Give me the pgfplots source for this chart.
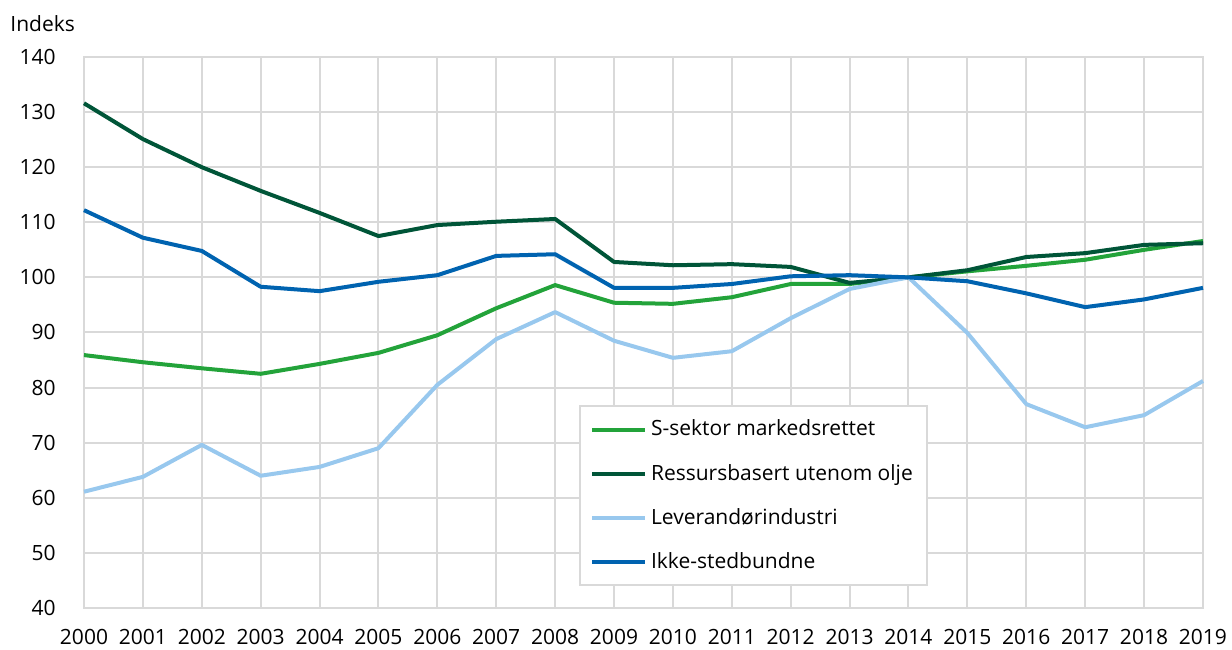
\documentclass[border=0pt]{standalone}
\usepackage{fontspec}
\setmainfont{Open Sans}
\usepackage{pgfplots}
\pgfplotsset{compat=1.18}

\definecolor{sgreen}{HTML}{23A33A}
\definecolor{dgreen}{HTML}{005538}
\definecolor{lblue}{HTML}{98C8EE}
\definecolor{mblue}{HTML}{0063B0}
\definecolor{gridgrey}{HTML}{D9D9D9}

\pgfplotstableread{
year ssektor ressurs lever ikke
2000 85.9 131.6 61.1 112.2
2001 84.6 125.1 63.8 107.2
2002 83.5 120.0 69.6 104.8
2003 82.5 115.7 64.0 98.3
2004 84.3 111.7 65.6 97.5
2005 86.3 107.5 69.0 99.2
2006 89.5 109.5 80.5 100.4
2007 94.4 110.1 88.8 103.9
2008 98.6 110.6 93.7 104.2
2009 95.4 102.8 88.5 98.1
2010 95.2 102.2 85.4 98.1
2011 96.4 102.4 86.6 98.8
2012 98.8 101.9 92.6 100.2
2013 98.8 99.0 97.9 100.4
2014 100.0 100.0 100.0 100.0
2015 101.1 101.3 89.9 99.3
2016 102.1 103.7 77.0 97.1
2017 103.2 104.4 72.8 94.6
2018 105.0 105.9 75.0 96.0
2019 106.6 106.2 81.2 98.1
}\data

\begin{document}
\fontsize{10.5}{12.5}\selectfont
\begin{tikzpicture}
\begin{axis}[
  width=559.5pt, height=275.5pt, scale only axis,
  xmin=2000, xmax=2019, ymin=40, ymax=140,
  xtick={2000,...,2019}, ytick={40,50,...,140},
  grid=major, major grid style={gridgrey, line width=1pt},
  axis line style={gridgrey, line width=1pt},
  major tick length=0pt,
  tick label style={font=\fontsize{10.5}{12.5}\selectfont, inner sep=0pt},
  /pgf/number format/assume math mode=true,
  xticklabel style={/pgf/number format/1000 sep={}, anchor=center, yshift=-14.5pt},
  yticklabel style={anchor=east, xshift=-14pt},
  clip=false,
  legend cell align=left,
  legend style={at={(0.4424,0.3684)}, anchor=north west,
    draw=gridgrey, line width=1pt, fill=white,
    font=\fontsize{10.5}{12.5}\selectfont,
    row sep=8.5pt, inner xsep=5pt, inner ysep=5pt},
  legend image code/.code={\draw[#1, line width=2pt] (0pt,0pt) -- (26.5pt,0pt);},
  every axis plot/.append style={line width=2pt, line join=round, no markers},
]
\addplot[sgreen] table[x=year, y=ssektor] {\data};
\addplot[dgreen] table[x=year, y=ressurs] {\data};
\addplot[lblue] table[x=year, y=lever] {\data};
\addplot[mblue] table[x=year, y=ikke] {\data};
\legend{S-sektor markedsrettet, Ressursbasert utenom olje, Leverandørindustri, Ikke-stedbundne}
\node[anchor=west, inner sep=0pt] at ([xshift=-37pt, yshift=16.5pt]rel axis cs:0,1) {Indeks};
\coordinate (ll) at (rel axis cs:0,0);
\coordinate (ur) at (rel axis cs:1,1);
\end{axis}
\pgfresetboundingbox
\path ([shift={(-42pt,-21pt)}]ll) rectangle ([shift={(14.5pt,28.5pt)}]ur);
\end{tikzpicture}
\end{document}
